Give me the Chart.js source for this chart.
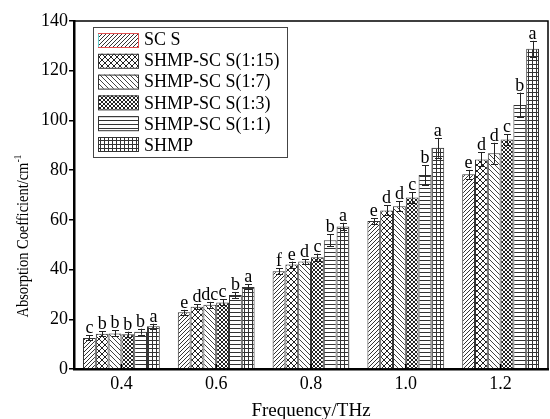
<!DOCTYPE html>
<html>
<head>
<meta charset="utf-8">
<script src="https://cdn.jsdelivr.net/npm/chart.js@4.4.1/dist/chart.umd.min.js"></script>
<style>
html,body{margin:0;padding:0;background:#fff;}
#wrap{width:550px;height:419px;}
</style>
</head>
<body>
<div id="wrap"><canvas id="absChart" width="550" height="419"></canvas></div>
<script>
// data
const frequencies = ['0.4','0.6','0.8','1.0','1.2'];
const seriesNames = ['SC S','SHMP-SC S(1:15)','SHMP-SC S(1:7)','SHMP-SC S(1:3)','SHMP-SC S(1:1)','SHMP'];

const scsVals  = [12.5, 22.8, 39.3, 59.5, 78.3];
const r115Vals = [14.2, 25.0, 42.0, 63.8, 84.3];
const r17Vals  = [14.3, 25.8, 43.2, 65.5, 86.8];
const r13Vals  = [14.0, 26.8, 45.0, 69.0, 92.3];
const r11Vals  = [15.0, 29.8, 51.8, 78.0, 106.2];
const shmpVals = [17.2, 33.0, 57.3, 89.0, 128.8];

const scsErr  = [1.0, 1.0, 1.2, 1.2, 1.8];
const r115Err = [1.0, 1.0, 1.2, 2.0, 2.8];
const r17Err  = [1.2, 1.2, 1.0, 2.0, 4.2];
const r13Err  = [1.0, 1.2, 1.4, 2.2, 2.2];
const r11Err  = [1.2, 1.2, 2.5, 4.0, 5.0];
const shmpErr = [1.0, 1.0, 1.5, 4.0, 3.2];

const scsSig  = ['c','e','f','e','e'];
const r115Sig = ['b','d','e','d','d'];
const r17Sig  = ['b','dc','d','d','d'];
const r13Sig  = ['b','c','c','c','c'];
const r11Sig  = ['b','b','b','b','b'];
const shmpSig = ['a','a','a','a','a'];

const yTicks = [0,20,40,60,80,100,120,140];

const SERIF = '"Liberation Serif", "DejaVu Serif", serif';

document.addEventListener('DOMContentLoaded',() =>
{
    const canvas = document.getElementById('absChart');
    const ctx = canvas.getContext('2d');

    // hatch tiles
    const makePattern = (size,color,draw) =>
    {
        const c = document.createElement('canvas');
        c.width = size; c.height = size;
        const g = c.getContext('2d');
        g.fillStyle = '#fff';
        g.fillRect(0,0,size,size);
        g.strokeStyle = color;
        g.lineWidth = 1;
        draw(g,size);
        return ctx.createPattern(c,'repeat');
    };
    const slash = (g,s) =>
    {
        g.beginPath();
        g.moveTo(-1,1); g.lineTo(1,-1);
        g.moveTo(0,s); g.lineTo(s,0);
        g.moveTo(s-1,s+1); g.lineTo(s+1,s-1);
        g.stroke();
    };
    const backslash = (g,s) =>
    {
        g.beginPath();
        g.moveTo(-1,s-1); g.lineTo(1,s+1);
        g.moveTo(0,0); g.lineTo(s,s);
        g.moveTo(s-1,-1); g.lineTo(s+1,1);
        g.stroke();
    };
    const patterns = [
        makePattern(4,'#333',slash),
        makePattern(6,'#222',(g,s) => { slash(g,s); backslash(g,s); }),
        makePattern(5,'#444',backslash),
        makePattern(4,'#222',(g,s) => { slash(g,s); backslash(g,s); }),
        makePattern(4,'#333',(g,s) => { g.beginPath(); g.moveTo(0,0.5); g.lineTo(s,0.5); g.stroke(); }),
        makePattern(4,'#333',(g,s) => { g.beginPath(); g.moveTo(0,0.5); g.lineTo(s,0.5); g.moveTo(0.5,0); g.lineTo(0.5,s); g.stroke(); })
    ];

    const values = [scsVals,r115Vals,r17Vals,r13Vals,r11Vals,shmpVals];
    const errors = [scsErr,r115Err,r17Err,r13Err,r11Err,shmpErr];
    const letters = [scsSig,r115Sig,r17Sig,r13Sig,r11Sig,shmpSig];

    const datasets = seriesNames.map((name,i) => ({
        label: name,
        data: values[i],
        backgroundColor: patterns[i],
        borderColor: '#333',
        borderWidth: 1,
        categoryPercentage: 0.81,
        barPercentage: 1.0
    }));

    // error bars, letters, legend, frame and titles
    const decor = {
        id: 'decor',
        afterDatasetsDraw(chart)
        {
            const c = chart.ctx;
            const y = chart.scales.y;
            c.save();
            c.strokeStyle = '#222';
            c.lineWidth = 1;
            c.fillStyle = '#000';
            c.font = '18px ' + SERIF;
            c.textAlign = 'center';
            c.textBaseline = 'alphabetic';
            chart.data.datasets.forEach((ds,i) =>
            {
                chart.getDatasetMeta(i).data.forEach((bar,j) =>
                {
                    const v = ds.data[j], e = errors[i][j];
                    const top = y.getPixelForValue(v + e);
                    const bot = y.getPixelForValue(v - e);
                    const x = Math.round(bar.x) + 0.5;
                    c.beginPath();
                    c.moveTo(x,top); c.lineTo(x,bot);
                    c.moveTo(x - 3.5,Math.round(top) + 0.5); c.lineTo(x + 3.5,Math.round(top) + 0.5);
                    c.moveTo(x - 3.5,Math.round(bot) + 0.5); c.lineTo(x + 3.5,Math.round(bot) + 0.5);
                    c.stroke();
                    c.fillText(letters[i][j],bar.x,top - 2);
                });
            });
            c.restore();
        },
        afterDraw(chart)
        {
            const c = chart.ctx;
            const a = chart.chartArea;
            const xs = chart.scales.x;
            c.save();
            // top / right frame
            c.strokeStyle = '#000';
            c.lineWidth = 1.5;
            c.beginPath();
            c.moveTo(a.left,a.top); c.lineTo(a.right,a.top); c.lineTo(a.right,a.bottom);
            c.stroke();
            // inward x ticks
            frequencies.forEach((f,i) =>
            {
                const px = xs.getPixelForValue(i);
                c.beginPath();
                c.moveTo(px,a.bottom); c.lineTo(px,a.bottom - 5);
                c.stroke();
            });

            // legend
            const lx = 93, ly = 27, lw = 194, lh = 130;
            c.fillStyle = '#fff';
            c.fillRect(lx,ly,lw,lh);
            c.strokeStyle = '#444';
            c.lineWidth = 1;
            c.strokeRect(lx + 0.5,ly + 0.5,lw,lh);
            c.font = '18px ' + SERIF;
            c.textAlign = 'left';
            c.textBaseline = 'middle';
            seriesNames.forEach((name,i) =>
            {
                const sy = 33 + i * 20.8;
                c.fillStyle = patterns[i];
                c.fillRect(98,sy,40,14);
                c.strokeStyle = i === 0 ? '#e05050' : '#333';
                c.strokeRect(98.5,sy + 0.5,40,14);
                if (i === 0)
                {
                    c.strokeStyle = '#6cc';
                    c.beginPath(); c.moveTo(98.5,sy + 1); c.lineTo(98.5,sy + 14); c.stroke();
                }
                c.fillStyle = '#000';
                c.fillText(name,144,40.5 + i * 21.1);
            });

            // y title with superscript, squeezed to the length seen in the figure
            c.save();
            c.translate(24,236);
            c.rotate(-Math.PI / 2);
            const main = 'Absorption Coefficient/cm';
            c.font = '17px ' + SERIF;
            const w1 = c.measureText(main).width;
            c.font = '11px ' + SERIF;
            const w2 = c.measureText('-1').width;
            const total = w1 + w2 + 0.5;
            const sx = Math.min(1,163 / total);
            c.scale(sx,1);
            const start = -total / 2;
            c.textAlign = 'left';
            c.textBaseline = 'middle';
            c.fillStyle = '#000';
            c.font = '17px ' + SERIF;
            c.fillText(main,start,0);
            c.font = '11px ' + SERIF;
            c.fillText('-1',start + w1 + 0.5,-6);
            c.restore();

            // x title
            c.font = '19px ' + SERIF;
            c.textAlign = 'center';
            c.textBaseline = 'alphabetic';
            c.fillStyle = '#000';
            c.fillText('Frequency/THz',(a.left + a.right) / 2,416);
            c.restore();
        }
    };

    new Chart(ctx,{
        type: 'bar',
        data: { labels: frequencies, datasets },
        options: {
            responsive: false,
            animation: false,
            layout: { padding: { left: 0, right: 2, top: 21, bottom: 0 } },
            plugins: {
                legend: { display: false },
                tooltip: { enabled: false }
            },
            scales: {
                x: {
                    afterFit: (s) => { s.height = 50; },
                    grid: { display: false, drawTicks: false },
                    border: { display: true, color: '#000', width: 2.5 },
                    ticks: { color: '#000', padding: 4, font: { family: SERIF, size: 18 } }
                },
                y: {
                    min: 0,
                    max: 140,
                    afterFit: (s) => { s.width = 74; },
                    afterBuildTicks: (s) => { s.ticks = yTicks.map(v => ({ value: v })); },
                    grid: { display: true, drawOnChartArea: false, drawTicks: true, tickLength: 5, color: '#000', lineWidth: 1.5 },
                    border: { display: true, color: '#000', width: 2.5 },
                    ticks: { color: '#000', padding: 1, font: { family: SERIF, size: 18 } }
                }
            }
        },
        plugins: [decor]
    });
});
</script>
</body>
</html>
